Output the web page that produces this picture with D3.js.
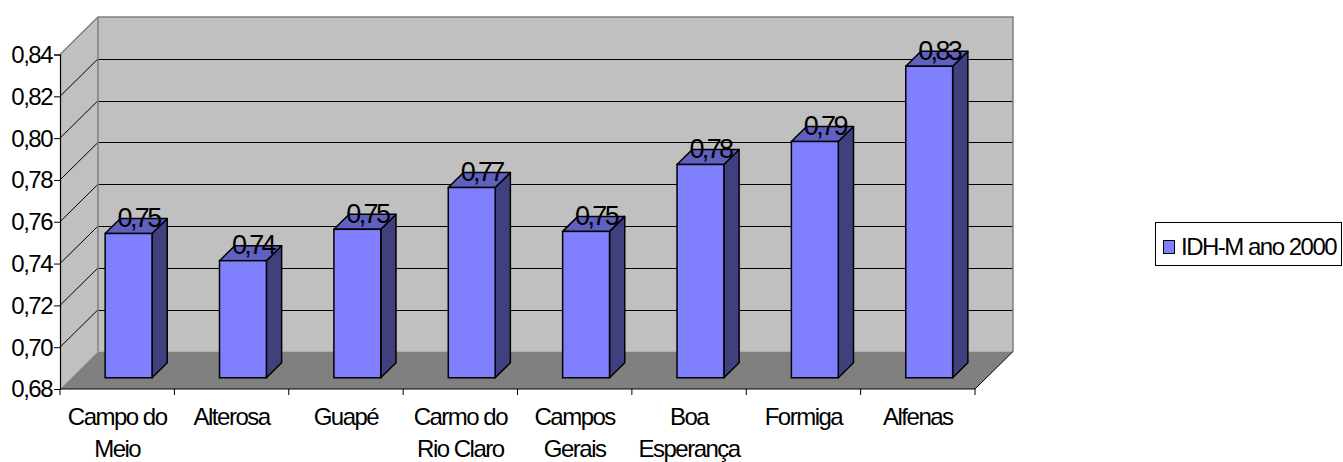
<!DOCTYPE html>
<html>
<head>
<meta charset="utf-8">
<script src="https://cdn.jsdelivr.net/npm/d3@7"></script>
<style>
  html, body { margin: 0; padding: 0; background: #fff; }
  svg { display: block; }
  text { font-family: "Liberation Sans", Arial, sans-serif; fill: #000; }
</style>
</head>
<body>
<svg id="chart" width="1343" height="462"></svg>
<script>
// ---- data ----
const categories = [
  ["Campo do", "Meio"],
  ["Alterosa"],
  ["Guapé"],
  ["Carmo do", "Rio Claro"],
  ["Campos", "Gerais"],
  ["Boa", "Esperança"],
  ["Formiga"],
  ["Alfenas"]
];
const values = [0.749, 0.736, 0.751, 0.771, 0.750, 0.782, 0.793, 0.829];
const yTicks = [0.68, 0.70, 0.72, 0.74, 0.76, 0.78, 0.80, 0.82, 0.84];
const seriesName = "IDH-M ano 2000";

// ---- layout ----
const svg = d3.select("#chart");
const pLeft = 60, pRight = 975, pBottom = 389, pTop = 54.5;
const DX = 38, DY = -37.5;            // full depth offset
const off = d => [DX * d, DY * d];
const dFront = 0.3, dBack = 0.7;
const FS = "24px", LS = "-1.5px";

const keys = categories.map(c => c.join(" "));
const x = d3.scaleBand().domain(keys).range([pLeft, pRight]).padding(0);
const y = d3.scaleLinear().domain([0.68, 0.84]).range([pBottom, pTop]);
const bw = x.bandwidth();
const barW = bw * 0.41;
const fmt = v => d3.format(".2f")(v).replace(".", ",");

const g = svg.append("g");

// side wall
g.append("polygon")
  .attr("points", [[pLeft, y(0.84)], [pLeft + DX, y(0.84) + DY], [pLeft + DX, y(0.68) + DY], [pLeft, y(0.68)]].join(" "))
  .attr("fill", "#c0c0c0");
// back wall
g.append("rect")
  .attr("x", pLeft + DX).attr("y", y(0.84) + DY)
  .attr("width", pRight - pLeft).attr("height", y(0.68) - y(0.84))
  .attr("fill", "#c0c0c0");

// gridlines
const inner = yTicks.filter(t => t > 0.68 && t < 0.84);
g.selectAll(".gb").data(inner).enter().append("line")
  .attr("x1", pLeft + DX).attr("x2", pRight + DX)
  .attr("y1", d => Math.round(y(d) + DY) + 0.5).attr("y2", d => Math.round(y(d) + DY) + 0.5)
  .attr("stroke", "#000").attr("stroke-width", 1);
g.selectAll(".gs").data(inner).enter().append("line")
  .attr("x1", pLeft).attr("y1", d => y(d))
  .attr("x2", pLeft + DX).attr("y2", d => y(d) + DY)
  .attr("stroke", "#000").attr("stroke-width", 1);

// wall outlines (gray)
g.append("path")
  .attr("d", `M${pLeft},${y(0.84)} L${pLeft + DX},${y(0.84) + DY} L${pRight + DX},${y(0.84) + DY} L${pRight + DX},${y(0.68) + DY}
             M${pLeft + DX},${y(0.84) + DY} L${pLeft + DX},${y(0.68) + DY}`)
  .attr("fill", "none").attr("stroke", "#808080").attr("stroke-width", 1.5);

// floor
g.append("polygon")
  .attr("points", [[pLeft, y(0.68)], [pRight, y(0.68)], [pRight + DX, y(0.68) + DY], [pLeft + DX, y(0.68) + DY]].join(" "))
  .attr("fill", "#808080");
g.append("line")
  .attr("x1", pRight).attr("y1", y(0.68)).attr("x2", pRight + DX).attr("y2", y(0.68) + DY)
  .attr("stroke", "#000").attr("stroke-width", 1);

// bars
const [ox1, oy1] = off(dFront);
const [ox2, oy2] = off(dBack);
const bars = g.selectAll(".bar").data(values.map((v, i) => ({ v, k: keys[i] })))
  .enter().append("g");
bars.each(function (d) {
  const s = d3.select(this);
  const x0 = x(d.k) + (bw - barW) / 2;
  const yt = y(d.v), yb = y(0.68);
  s.append("polygon")
    .attr("points", [[x0 + barW + ox1, yt + oy1], [x0 + barW + ox2, yt + oy2], [x0 + barW + ox2, yb + oy2], [x0 + barW + ox1, yb + oy1]].join(" "))
    .attr("fill", "#40407f").attr("stroke", "#000").attr("stroke-width", 1.5).attr("stroke-linejoin", "round");
  s.append("polygon")
    .attr("points", [[x0 + ox1, yt + oy1], [x0 + barW + ox1, yt + oy1], [x0 + barW + ox2, yt + oy2], [x0 + ox2, yt + oy2]].join(" "))
    .attr("fill", "#6060c0").attr("stroke", "#000").attr("stroke-width", 1.5).attr("stroke-linejoin", "round");
  s.append("rect")
    .attr("x", x0 + ox1).attr("y", yt + oy1)
    .attr("width", barW).attr("height", yb - yt)
    .attr("fill", "#8080ff").attr("stroke", "#000").attr("stroke-width", 1.5);
});

// data labels
g.selectAll(".dl").data(values.map((v, i) => ({ v, k: keys[i] })))
  .enter().append("text")
  .attr("x", d => x(d.k) + bw / 2 + ox1 + 10)
  .attr("y", d => y(d.v) + oy1 - 6.5)
  .attr("text-anchor", "middle")
  .style("font-size", "27px").style("letter-spacing", "-2.6px")
  .text(d => fmt(d.v));

// y axis
const yAxis = d3.axisLeft(y).tickValues(yTicks).tickSize(6).tickFormat(fmt);
const ya = g.append("g").attr("transform", `translate(${pLeft},0)`).call(yAxis);
ya.select(".domain").attr("stroke", "#000").attr("stroke-width", 1.2);
ya.selectAll(".tick line").attr("stroke", "#000");
ya.selectAll(".tick text")
  .attr("x", -8).attr("dy", "0.33em")
  .style("font-size", FS).style("letter-spacing", LS)
  .style("font-family", "'Liberation Sans', Arial, sans-serif").attr("fill", "#000");

// x axis (line + boundary ticks)
g.append("line").attr("x1", pLeft).attr("x2", pRight).attr("y1", pBottom).attr("y2", pBottom)
  .attr("stroke", "#000").attr("stroke-width", 1.2);
const bounds = keys.map(k => x(k)).concat([pRight]);
g.selectAll(".xt").data(bounds).enter().append("line")
  .attr("x1", d => d).attr("x2", d => d).attr("y1", pBottom).attr("y2", pBottom + 6)
  .attr("stroke", "#000");
const xl = g.selectAll(".xl").data(categories).enter().append("text")
  .attr("text-anchor", "middle")
  .attr("x", (d, i) => x(keys[i]) + bw / 2)
  .attr("y", 425)
  .style("font-size", FS).style("letter-spacing", LS);
xl.selectAll("tspan").data(d => d).enter().append("tspan")
  .attr("x", function () { return d3.select(this.parentNode).attr("x"); })
  .attr("dy", (d, i) => i === 0 ? 0 : 32)
  .text(d => d);

// legend
const lg = svg.append("g");
lg.append("rect").attr("x", 1155.5).attr("y", 222.5).attr("width", 186).attr("height", 43)
  .attr("fill", "#fff").attr("stroke", "#000").attr("stroke-width", 1);
lg.append("rect").attr("x", 1163.5).attr("y", 240.5).attr("width", 11).attr("height", 13)
  .attr("fill", "#8080ff").attr("stroke", "#000").attr("stroke-width", 1);
lg.append("text").attr("x", 1181).attr("y", 255)
  .style("font-size", FS).style("letter-spacing", LS)
  .text(seriesName);
</script>
</body>
</html>
